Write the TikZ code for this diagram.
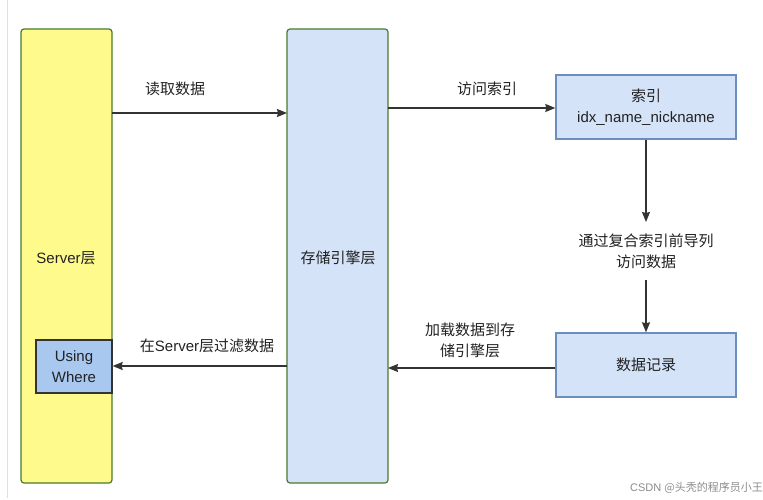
\documentclass[tikz,border=0pt]{standalone}
\usepackage{fontspec}
\setmainfont{Liberation Sans}
\newfontfamily\cjk{Noto Sans CJK SC}
\usetikzlibrary{arrows.meta}
\definecolor{layerborder}{HTML}{4A7A2C}
\definecolor{yellowfill}{HTML}{FFFA8C}
\definecolor{bluefill}{HTML}{D4E3F7}
\definecolor{bluedark}{HTML}{A9C8F0}
\definecolor{boxborder}{HTML}{6C8EBF}
\definecolor{linecol}{HTML}{333333}
\definecolor{txtcol}{HTML}{222222}
\tikzset{
  layer/.style={draw=layerborder, line width=1.2pt, rounded corners=3pt},
  databox/.style={draw=boxborder, fill=bluefill, line width=1.4pt},
  conn/.style={draw=linecol, line width=1.3pt, -{Stealth[length=10pt,width=8pt,inset=1pt]}},
  lbl/.style={text=txtcol, font=\fontsize{15}{21}\selectfont, align=center, inner sep=0pt},
}
\begin{document}
\begin{tikzpicture}[x=1pt,y=-1pt]
\useasboundingbox (0,0) rectangle (763,500);
\fill[white] (0,0) rectangle (763,500);
\draw[black!12, line width=0.8pt] (7,0) -- (7,498);
% layers
\draw[layer, fill=yellowfill] (21,29) rectangle (112,483);
\node[lbl] (server) at (66,258) {Server{\cjk 层}};
\draw[layer, fill=bluefill] (287,29) rectangle (388,483);
\node[lbl] (storage) at (338,258) {\cjk 存储引擎层};
% named anchors on layers
\coordinate (srvR1) at (112,113);
\coordinate (stoL1) at (287,113);
\coordinate (stoR1) at (388,108);
\coordinate (stoR2) at (388,368);
\coordinate (stoL2) at (287,366);
% using where
\node[draw=linecol, fill=bluedark, line width=1.3pt, minimum width=76pt, minimum height=53pt, inner sep=0pt, lbl] (using) at (74,366.5) {Using\\Where};
% index box
\node[databox, minimum width=180pt, minimum height=64pt, lbl] (index) at (646,107) {{\cjk 索引}\\idx\_name\_nickname};
% data box
\node[databox, minimum width=180pt, minimum height=64pt, lbl] (data) at (646,365) {\cjk 数据记录};
% middle label
\node[lbl] (mid) at (646,251) {{\cjk 通过复合索引前导列}\\{\cjk 访问数据}};
\coordinate (midTop) at (646,222);
\coordinate (midBot) at (646,280);
% connectors
\draw[conn] (srvR1) -- (stoL1);
\node[lbl] (l1) at (175,89) {\cjk 读取数据};
\draw[conn] (stoR1) -- (index.west |- stoR1);
\node[lbl] (l2) at (487,89) {\cjk 访问索引};
\draw[conn] (index.south) -- (midTop);
\draw[conn] (midBot) -- (data.north);
\draw[conn] (data.west |- stoR2) -- (stoR2);
\node[lbl] (l3) at (470,340) {{\cjk 加载数据到存}\\{\cjk 储引擎层}};
\draw[conn] (stoL2) -- (using.east |- stoL2);
\node[lbl] (l4) at (207,346) {{\cjk 在}Server{\cjk 层过滤数据}};
% watermark
\node[text=black!45, font=\fontsize{11}{13}\selectfont, anchor=east, inner sep=0pt] (wm) at (763,488) {CSDN {\cjk @头秃的程序员小王}};
\end{tikzpicture}
\end{document}
